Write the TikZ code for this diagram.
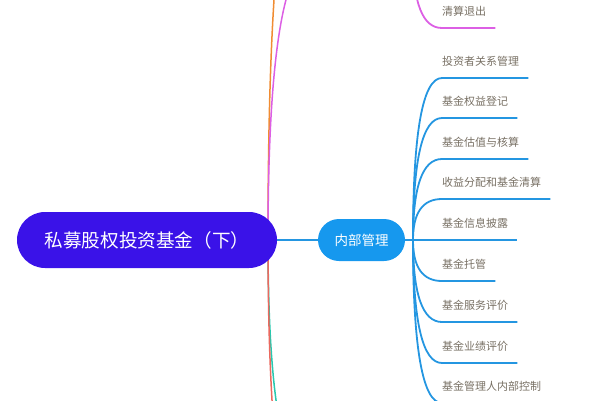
\documentclass[tikz,border=0pt]{standalone}
\usepackage{fontspec}
\newfontfamily\cjk{Noto Sans CJK SC}
\usetikzlibrary{backgrounds, calc}
\usepackage{xcolor}

\definecolor{rootfill}{RGB}{58,18,232}
\definecolor{topicfill}{RGB}{22,152,238}
\definecolor{blueline}{RGB}{36,150,225}
\definecolor{leafgray}{RGB}{120,112,100}
\definecolor{magline}{RGB}{220,95,228}
\definecolor{orgline}{RGB}{240,140,50}
\definecolor{redline}{RGB}{235,105,95}
\definecolor{tealline}{RGB}{40,200,175}

\tikzset{
branch/.style={to path={.. controls ($(\tikztostart)!0.667!(\tikztostart |- \tikztotarget)$)
  and ($(\tikztotarget)!0.667!(\tikztostart |- \tikztotarget)$) .. (\tikztotarget) \tikztonodes}},
}

\begin{document}
\begin{tikzpicture}[
x=1pt, y=-1pt,
root/.style={fill=rootfill, text=white, rounded corners=28pt,
  minimum width=260pt, minimum height=56pt, inner sep=0pt,
  font=\cjk\fontsize{18.6}{20}\selectfont},
topic/.style={fill=topicfill, text=white, rounded corners=21pt,
  minimum width=87pt, minimum height=42pt, inner sep=0pt,
  font=\cjk\fontsize{13.5}{15}\selectfont},
leaf/.style={anchor=south west, inner xsep=0pt, inner ysep=0.5pt,
  text depth=12.3pt, text=leafgray, font=\cjk\fontsize{11}{12}\selectfont},
blu/.style={draw=blueline, line width=1.8pt},
]
\useasboundingbox (0,0) rectangle (600,400);

\node[root] (main) at (147,240) {私募股权投资基金（下）};
\node[topic] (neibu) at (361.5,240) {内部管理};

% hubs and topics outside the view
\coordinate (rhub) at (268,240);
\coordinate (hub) at (413,240);
\coordinate (orgtop) at (318,-179);
\coordinate (magtop) at (318,-46);
\coordinate (maghub) at (413,-46);
\coordinate (tealbot) at (318,490);
\coordinate (redbot) at (318,569);

% leaves
\node[leaf] (qingsuan) at (442,28) {清算退出};
\node[leaf] (touzizhe) at (442,78) {投资者关系管理};
\node[leaf] (quanyi) at (442,118) {基金权益登记};
\node[leaf] (guzhi) at (442,159) {基金估值与核算};
\node[leaf] (shouyi) at (442,199) {收益分配和基金清算};
\node[leaf] (pilu) at (442,240) {基金信息披露};
\node[leaf] (tuoguan) at (442,281) {基金托管};
\node[leaf] (fuwu) at (442,322) {基金服务评价};
\node[leaf] (yeji) at (442,363) {基金业绩评价};
\node[leaf] (neikong) at (442,403) {基金管理人内部控制};

\begin{pgfonlayer}{background}
% branches of the root
\draw[orgline, line width=1.5pt] (rhub) to[branch] (orgtop);
\draw[magline, line width=1.5pt] (rhub) to[branch] (magtop);
\draw[tealline, line width=1.5pt] (rhub) to[branch] (tealbot);
\draw[redline, line width=1.5pt] (rhub) to[branch] (redbot);
\draw[blueline, line width=1.5pt] (main.east) -- (neibu.west);
\end{pgfonlayer}

% magenta leaf
\draw[magline, line width=1.8pt] (maghub) to[branch] (qingsuan.south west) -- ([xshift=9pt]qingsuan.south east);

% Arrows of the blue topic
\draw[blu] (neibu.east) -- (hub);
\draw[blu] (hub) to[branch] (touzizhe.south west) -- ([xshift=9pt]touzizhe.south east);
\draw[blu] (hub) to[branch] (quanyi.south west) -- ([xshift=9pt]quanyi.south east);
\draw[blu] (hub) to[branch] (guzhi.south west) -- ([xshift=9pt]guzhi.south east);
\draw[blu] (hub) to[branch] (shouyi.south west) -- ([xshift=9pt]shouyi.south east);
\draw[blu] (hub) -- (pilu.south west) -- ([xshift=9pt]pilu.south east);
\draw[blu] (hub) to[branch] (tuoguan.south west) -- ([xshift=9pt]tuoguan.south east);
\draw[blu] (hub) to[branch] (fuwu.south west) -- ([xshift=9pt]fuwu.south east);
\draw[blu] (hub) to[branch] (yeji.south west) -- ([xshift=9pt]yeji.south east);
\draw[blu] (hub) to[branch] (neikong.south west) -- ([xshift=9pt]neikong.south east);

\end{tikzpicture}
\end{document}
